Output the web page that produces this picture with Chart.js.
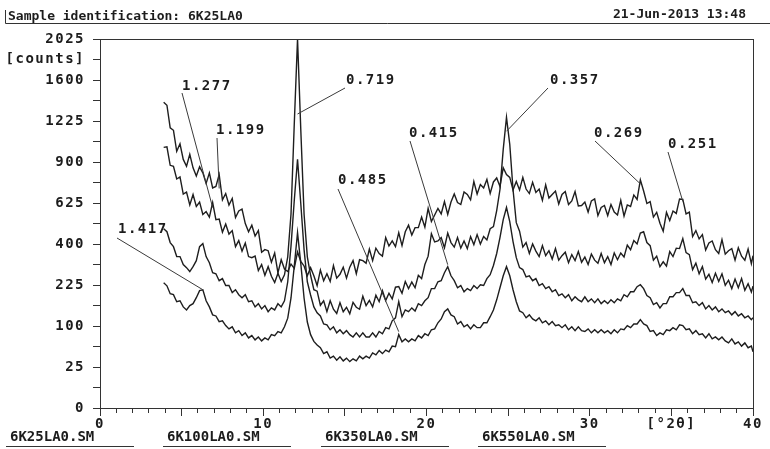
<!DOCTYPE html>
<html lang="en">
<head>
<meta charset="UTF-8">
<title>6K25LA0 - XRD</title>
<script src="https://cdn.jsdelivr.net/npm/chart.js"></script>
<style>
  html, body { margin: 0; padding: 0; background: #fff; }
</style>
</head>
<body>
<canvas id="xrdChart" width="770" height="449"></canvas>
<script>
// scan angles in degrees 2-theta (0.2 step)
const angles = [3.9,4.1,4.3,4.5,4.7,4.9,5.1,5.3,5.5,5.7,5.9,6.1,6.3,6.5,6.7,6.9,7.1,7.3,7.5,7.7,
  7.9,8.1,8.3,8.5,8.7,8.9,9.1,9.3,9.5,9.7,9.9,10.1,10.3,10.5,10.7,10.9,11.1,11.3,11.5,11.7,
  11.9,12.1,12.3,12.5,12.7,12.9,13.1,13.3,13.5,13.7,13.9,14.1,14.3,14.5,14.7,14.9,15.1,15.3,15.5,15.7,
  15.9,16.1,16.3,16.5,16.7,16.9,17.1,17.3,17.5,17.7,17.9,18.1,18.3,18.5,18.7,18.9,19.1,19.3,19.5,19.7,
  19.9,20.1,20.3,20.5,20.7,20.9,21.1,21.3,21.5,21.7,21.9,22.1,22.3,22.5,22.7,22.9,23.1,23.3,23.5,23.7,
  23.9,24.1,24.3,24.5,24.7,24.9,25.1,25.3,25.5,25.7,25.9,26.1,26.3,26.5,26.7,26.9,27.1,27.3,27.5,27.7,
  27.9,28.1,28.3,28.5,28.7,28.9,29.1,29.3,29.5,29.7,29.9,30.1,30.3,30.5,30.7,30.9,31.1,31.3,31.5,31.7,
  31.9,32.1,32.3,32.5,32.7,32.9,33.1,33.3,33.5,33.7,33.9,34.1,34.3,34.5,34.7,34.9,35.1,35.3,35.5,35.7,
  35.9,36.1,36.3,36.5,36.7,36.9,37.1,37.3,37.5,37.7,37.9,38.1,38.3,38.5,38.7,38.9,39.1,39.3,39.5,39.7,
  39.9,40.0];

// intensities [counts]
const counts25 = [1390,1363,1168,1147,980,1038,919,869,957,858,
  801,865,822,750,822,720,730,811,644,684,
  613,653,540,577,589,506,462,497,440,468,
  361,373,368,316,357,272,327,287,277,308,
  290,362,320,300,260,293,260,223,283,241,
  268,238,302,251,266,295,251,295,323,268,
  327,323,312,376,323,380,355,343,432,390,
  415,387,457,392,462,497,445,484,484,542,
  487,592,517,554,592,560,634,557,631,681,
  628,616,694,678,644,763,681,743,720,777,
  684,760,787,730,858,811,791,707,763,707,
  791,713,684,757,691,713,641,740,656,678,
  700,619,678,697,616,638,697,607,610,631,
  571,638,650,551,598,610,551,616,571,554,
  641,548,613,604,675,647,774,700,622,634,
  542,569,508,465,569,523,577,563,650,647,
  560,571,437,468,425,447,371,405,415,373,
  355,422,352,368,378,325,382,343,325,376,
  310,345];

const counts100 = [1010,1014,876,869,780,794,681,694,613,678,
  604,631,557,574,542,628,528,531,460,503,
  450,468,387,417,366,405,341,336,343,281,
  306,262,297,258,234,270,238,264,340,560,
  1200,2025,1150,560,340,262,208,203,157,171,
  138,171,145,133,165,138,151,132,166,151,
  145,186,156,172,152,189,168,205,172,196,
  177,217,219,196,238,212,236,215,262,249,
  306,343,452,410,415,432,382,455,407,385,
  432,380,415,378,437,397,447,400,437,420,
  478,489,580,710,995,1257,1034,710,511,465,
  385,407,355,400,366,341,392,345,368,330,
  378,325,345,361,314,350,323,364,316,339,
  306,352,325,312,355,314,341,306,357,327,
  357,339,395,373,417,400,455,462,407,392,
  325,343,297,318,299,364,341,380,378,427,
  359,350,285,312,268,297,247,266,234,270,
  238,268,224,243,212,247,215,249,206,230,
  200,221];

const counts350 = [478,462,407,387,341,341,306,293,277,297,
  323,387,402,341,314,272,268,241,249,223,
  223,198,208,191,181,191,168,171,152,162,
  146,156,138,149,143,162,152,171,237,390,
  640,919,620,373,237,190,152,135,126,105,
  103,91,98,84,91,82,89,80,75,84,
  75,84,75,75,84,75,87,82,96,93,
  113,121,168,124,143,138,149,140,162,156,
  171,181,212,212,237,241,272,297,260,241,
  215,223,201,212,205,223,212,226,223,249,
  264,302,355,432,528,598,517,412,336,293,
  285,256,260,241,249,223,230,212,219,201,
  208,188,194,181,191,171,184,174,168,184,
  168,177,165,177,162,171,162,174,165,177,
  171,191,184,201,201,219,226,212,188,181,
  159,165,149,162,162,184,184,198,198,212,
  188,188,165,168,156,165,146,156,143,152,
  138,146,135,140,129,138,126,132,121,126,
  116,121];

const counts550 = [233,222,194,191,168,171,152,143,156,162,
  181,205,208,171,152,129,126,111,113,101,
  93,98,84,89,78,84,73,78,69,75,
  67,73,69,80,78,87,84,98,120,180,
  300,457,310,180,110,80,66,59,54,44,
  47,37,40,34,39,33,37,32,36,33,
  40,36,40,37,45,42,49,44,50,47,
  57,56,80,65,71,65,71,67,78,73,
  82,78,91,93,108,118,138,146,129,124,
  105,111,98,103,93,103,96,96,108,108,
  124,143,174,215,260,297,260,208,168,140,
  135,121,129,118,113,121,108,113,103,111,
  101,103,96,103,91,98,89,98,89,87,
  93,84,91,84,91,84,89,82,91,84,
  93,91,101,96,105,105,116,105,101,87,
  89,78,84,80,91,89,96,91,103,101,
  91,93,82,89,80,82,73,82,71,75,
  69,75,67,63,71,61,65,57,63,54,
  57,47];

const scanFiles = ['6K25LA0.SM', '6K100LA0.SM', '6K350LA0.SM', '6K550LA0.SM'];
const scanCounts = [counts25, counts100, counts350, counts550];

// labelled axis values
const yTickLabels = [0, 25, 100, 225, 400, 625, 900, 1225, 1600, 2025];
const xTickLabels = [0, 10, 20, 30, 40];

// d-spacings (nm) marked on the patterns
const peakLabels = ['1.417', '1.277', '1.199', '0.719', '0.485', '0.415', '0.357', '0.269', '0.251'];
const peakAngles = [6.3, 6.9, 7.3, 12.1, 18.3, 21.3, 24.9, 33.1, 35.7];
const peakScan   = [3, 1, 0, 1, 3, 2, 1, 0, 0];

// label placement: text x, text baseline, leader start x/y, leader stop below the point
const peakLayout = [
  [118, 233, 117, 238, 0],
  [182, 90, 182, 93, 5],
  [216, 134, 217, 138, 14],
  [346, 84, 345, 88, 75],
  [338, 184, 338, 189, -3],
  [409, 137, 410, 141, -2],
  [550, 84, 548, 88, 14],
  [594, 137, 595, 141, 4],
  [668, 148, 668, 152, 2]
];

const INK = '#1c1c1c';
const MONO = '"DejaVu Sans Mono", "Liberation Mono", monospace';

// square-root intensity axis
class SqrtScale extends Chart.LinearScale {
  static id = 'sqrt';
  static defaults = {};
  getPixelForValue(value) {
    const lo = Math.sqrt(this.min), hi = Math.sqrt(this.max);
    return this.getPixelForDecimal((Math.sqrt(Math.max(value, 0)) - lo) / (hi - lo));
  }
  getValueForPixel(pixel) {
    const lo = Math.sqrt(this.min), hi = Math.sqrt(this.max);
    const r = lo + this.getDecimalForPixel(pixel) * (hi - lo);
    return r * r;
  }
}
Chart.register(SqrtScale);

// major ticks plus one minor tick halfway (in root units) between each pair
const yTickValues = [];
yTickLabels.forEach((v, i) => {
  if (i > 0) {
    const m = (Math.sqrt(yTickLabels[i - 1]) + Math.sqrt(v)) / 2;
    yTickValues.push(m * m);
  }
  yTickValues.push(v);
});
const countsTick = yTickValues[yTickValues.length - 2];

const textSpacing = {
  id: 'textSpacing',
  beforeDraw(chart) { chart.ctx.letterSpacing = '1.5px'; }
};

const pageHeader = {
  id: 'pageHeader',
  beforeDatasetsDraw(chart) {
    const ctx = chart.ctx;
    ctx.save();
    ctx.fillStyle = INK;
    ctx.strokeStyle = '#333';
    ctx.lineWidth = 1;
    ctx.letterSpacing = '0px';
    ctx.font = 'bold 13px ' + MONO;
    ctx.textBaseline = 'alphabetic';
    ctx.textAlign = 'left';
    ctx.fillText('Sample identification: 6K25LA0', 8, 20);
    ctx.textAlign = 'right';
    ctx.fillText('21-Jun-2013 13:48', 746, 18);
    ctx.beginPath();
    ctx.moveTo(5.5, 10);
    ctx.lineTo(5.5, 23.5);
    ctx.lineTo(770, 23.5);
    ctx.stroke();
    ctx.restore();
  }
};

const plotFrame = {
  id: 'plotFrame',
  afterDatasetsDraw(chart) {
    const a = chart.chartArea, ctx = chart.ctx;
    ctx.save();
    ctx.strokeStyle = '#333';
    ctx.lineWidth = 1;
    ctx.strokeRect(Math.round(a.left) + 0.5, Math.round(a.top) + 0.5,
      Math.round(a.right - a.left), Math.round(a.bottom - a.top));
    ctx.restore();
  }
};

const peakMarks = {
  id: 'peakMarks',
  afterDatasetsDraw(chart) {
    const ctx = chart.ctx, xs = chart.scales.x, ys = chart.scales.y;
    ctx.save();
    ctx.strokeStyle = '#3a3a3a';
    ctx.fillStyle = INK;
    ctx.lineWidth = 1;
    ctx.font = 'bold 14px ' + MONO;
    ctx.letterSpacing = '1.5px';
    ctx.textAlign = 'left';
    ctx.textBaseline = 'alphabetic';
    peakLabels.forEach((txt, i) => {
      const idx = angles.indexOf(peakAngles[i]);
      const px = xs.getPixelForValue(peakAngles[i]);
      const py = ys.getPixelForValue(scanCounts[peakScan[i]][idx]);
      const [tx, ty, lx, ly, drop] = peakLayout[i];
      ctx.beginPath();
      ctx.moveTo(lx, ly);
      ctx.lineTo(px, py + drop);
      ctx.stroke();
      ctx.fillText(txt, tx, ty);
    });
    ctx.restore();
  }
};

const fileLegend = {
  id: 'fileLegend',
  afterDraw(chart) {
    const ctx = chart.ctx;
    const slots = [10, 167, 325, 482];
    ctx.save();
    ctx.fillStyle = INK;
    ctx.strokeStyle = '#333';
    ctx.lineWidth = 1;
    ctx.font = 'bold 14px ' + MONO;
    ctx.letterSpacing = '0px';
    ctx.textAlign = 'left';
    chart.data.datasets.forEach((ds, i) => {
      ctx.fillText(ds.label, slots[i], 441);
      ctx.beginPath();
      ctx.moveTo(slots[i] - 4, 446.5);
      ctx.lineTo(slots[i] + 124, 446.5);
      ctx.stroke();
    });
    ctx.restore();
  }
};

new Chart(document.getElementById('xrdChart'), {
  type: 'line',
  data: {
    datasets: scanFiles.map((name, i) => ({
      label: name,
      data: angles.map((a, k) => ({ x: a, y: scanCounts[i][k] })),
      borderColor: '#1e1e1e',
      borderWidth: 1.4,
      pointRadius: 0,
      tension: 0,
      fill: false
    }))
  },
  options: {
    responsive: false,
    devicePixelRatio: 1,
    animation: false,
    events: [],
    layout: { padding: { left: 0, top: 39, right: 17, bottom: 0 } },
    plugins: {
      legend: { display: false },
      tooltip: { enabled: false }
    },
    scales: {
      x: {
        type: 'linear',
        min: 0,
        max: 40,
        afterBuildTicks: (scale) => {
          scale.ticks = [];
          for (let v = 0; v <= 40; v++) scale.ticks.push({ value: v });
        },
        afterFit: (scale) => { scale.height = 41; },
        border: { display: true, color: '#333', width: 1 },
        grid: {
          drawOnChartArea: false,
          drawTicks: true,
          tickLength: 8,
          tickColor: '#333',
          tickBorderDash: (c) => (c.tick && c.tick.value % 5 === 0) ? [] : [4, 20]
        },
        ticks: {
          autoSkip: false,
          maxRotation: 0,
          padding: 0,
          color: INK,
          font: { family: MONO, size: 14, weight: 'bold' },
          callback: (v) => xTickLabels.includes(v) ? String(v) : (v === 35 ? '[°2θ]' : '')
        }
      },
      y: {
        type: 'sqrt',
        min: 0,
        max: 2025,
        afterBuildTicks: (scale) => {
          scale.ticks = yTickValues.map(v => ({ value: v }));
        },
        afterFit: (scale) => { scale.width = 100; },
        border: { display: true, color: '#333', width: 1 },
        grid: {
          drawOnChartArea: false,
          drawTicks: true,
          tickLength: 7,
          tickColor: '#333'
        },
        ticks: {
          autoSkip: false,
          padding: 8,
          color: INK,
          font: { family: MONO, size: 14, weight: 'bold' },
          callback: (v) => yTickLabels.includes(v) ? String(v) : (v === countsTick ? '[counts]' : '')
        }
      }
    }
  },
  plugins: [textSpacing, pageHeader, plotFrame, peakMarks, fileLegend]
});
</script>
</body>
</html>
